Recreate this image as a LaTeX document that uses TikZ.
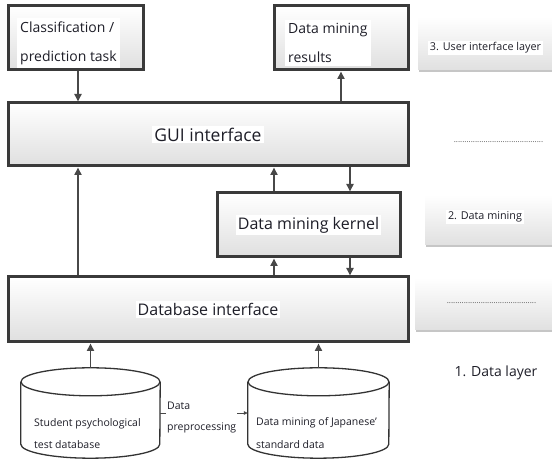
\documentclass[tikz,border=0pt]{standalone}
\usepackage{fontspec}
\setmainfont{Open Sans}
\usetikzlibrary{arrows.meta,shadows}
\definecolor{boxline}{RGB}{58,58,58}
\definecolor{arrcol}{RGB}{72,72,72}
\definecolor{txtcol}{RGB}{30,30,40}
\definecolor{dotcol}{RGB}{85,85,85}
\tikzset{
  mainbox/.style={draw=boxline, line width=3pt, top color=white, bottom color=gray!25, inner sep=0pt},
  bigtxt/.style={fill=white, text=txtcol, inner sep=2pt, font=\fontsize{16}{19}\selectfont},
  toptxt/.style={fill=white, text=txtcol, inner sep=3pt, align=left, font=\fontsize{14}{29}\selectfont},
  lblbox/.style={inner sep=0pt, top color=white, bottom color=gray!24,
    drop shadow={shadow xshift=1.2pt, shadow yshift=-2pt, opacity=0.45, fill=gray}},
  lbltxt/.style={fill=white, text=txtcol, inner sep=2pt, font=\fontsize{10.8}{13}\selectfont},
  dottxt/.style={text=dotcol, inner sep=0pt, font=\fontsize{8}{9}\selectfont},
  arr/.style={draw=arrcol, line width=1.9pt, -{Triangle[length=7.5pt,width=7pt]}, fill=arrcol},
  thinarr/.style={draw=arrcol, line width=0.8pt, -{Triangle[length=4pt,width=3.5pt]}},
  cylline/.style={draw=black!80, line width=1.3pt},
  cyltxt/.style={text=txtcol, inner sep=0pt, align=left, font=\fontsize{10.5}{22.5}\selectfont},
}
\begin{document}
\begin{tikzpicture}[x=1pt,y=1pt]
\useasboundingbox (0,0) rectangle (552,462);

% label boxes (right column)
\node[lblbox, minimum width=140pt, minimum height=53pt] (l3) at (488,418.5) {};
\node[lbltxt] (l3t) at (485.5,414) {3. User interface layer};
\node[lblbox, minimum width=130pt, minimum height=50pt] (l2) at (490,242) {};
\node[lbltxt] (l2t) at (485,245) {2. Data mining};
\node[lblbox, minimum width=140pt, minimum height=52pt] (l1) at (485,158) {};
\node[dottxt] (l1t) at (491.5,159) {..........................................};
\node[dottxt] (guidots) at (498.5,320) {..........................................};
\node[text=txtcol, inner sep=0pt, font=\fontsize{14}{16}\selectfont] (dl) at (496,89) {1. Data layer};

% main boxes
\node[mainbox, minimum width=135pt, minimum height=64pt] (cls) at (75.5,424) {};
\node[toptxt, anchor=west] (clst) at (17,419) {Classification /\\prediction task};
\node[mainbox, minimum width=134pt, minimum height=64pt] (res) at (341,424) {};
\node[toptxt, anchor=west] (rest) at (285,419) {Data mining\\results};
\node[mainbox, minimum width=400pt, minimum height=63pt,
      label={[bigtxt, font=\fontsize{17.5}{20}\selectfont]center:GUI interface}] (gui) at (208,327.5) {};
\node[mainbox, minimum width=183pt, minimum height=64pt,
      label={[bigtxt]center:Data mining kernel}] (ker) at (308.5,237) {};
\node[mainbox, minimum width=400pt, minimum height=65pt,
      label={[bigtxt]center:Database interface}] (db) at (208,152.5) {};

% cylinders
\node[minimum width=139pt, minimum height=90pt, inner sep=0pt] (cy1) at (90.5,49) {};
\node[minimum width=141pt, minimum height=90pt, inner sep=0pt] (cy2) at (318.5,49) {};
\draw[cylline, fill=white] ([yshift=-14pt]cy1.north west) -- ([yshift=14pt]cy1.south west)
  arc[start angle=180, end angle=360, x radius=69.5pt, y radius=14pt] -- ([yshift=-14pt]cy1.north east);
\draw[cylline] ([yshift=-14pt]cy1.north) ellipse[x radius=69.5pt, y radius=14pt];
\draw[cylline, fill=white] ([yshift=-14pt]cy2.north west) -- ([yshift=14pt]cy2.south west)
  arc[start angle=180, end angle=360, x radius=70.5pt, y radius=14pt] -- ([yshift=-14pt]cy2.north east);
\draw[cylline] ([yshift=-14pt]cy2.north) ellipse[x radius=70.5pt, y radius=14pt];
\node[cyltxt, anchor=west] (cy1t) at (34,28.5) {Student psychological\\test database};
\node[cyltxt, anchor=west] (cy2t) at (256,29) {Data mining of Japanese'\\standard data};

% preprocessing connector
\draw[thinarr] (cy1.east) -- (cy2.west);
\node[cyltxt, fill=white, inner sep=1pt, font=\fontsize{10.5}{21}\selectfont, anchor=west] (pp) at (166,44.5) {Data\\preprocessing};

% connectors
\coordinate (ax) at (78,0);
\coordinate (kx1) at (274,0);
\coordinate (kx2) at (350,0);
\draw[arr] (cls.south -| ax) -- (gui.north -| ax);
\draw[arr] (gui.north -| res.south) -- (res.south);
\draw[arr] (db.north -| ax) -- (gui.south -| ax);
\draw[arr] (ker.north -| kx1) -- (gui.south -| kx1);
\draw[arr] (gui.south -| kx2) -- (ker.north -| kx2);
\draw[arr] (db.north -| kx1) -- (ker.south -| kx1);
\draw[arr] (ker.south -| kx2) -- (db.north -| kx2);
\draw[arr] (cy1.north) -- (db.south -| cy1.north);
\draw[arr] (cy2.north) -- (db.south -| cy2.north);
\end{tikzpicture}
\end{document}
